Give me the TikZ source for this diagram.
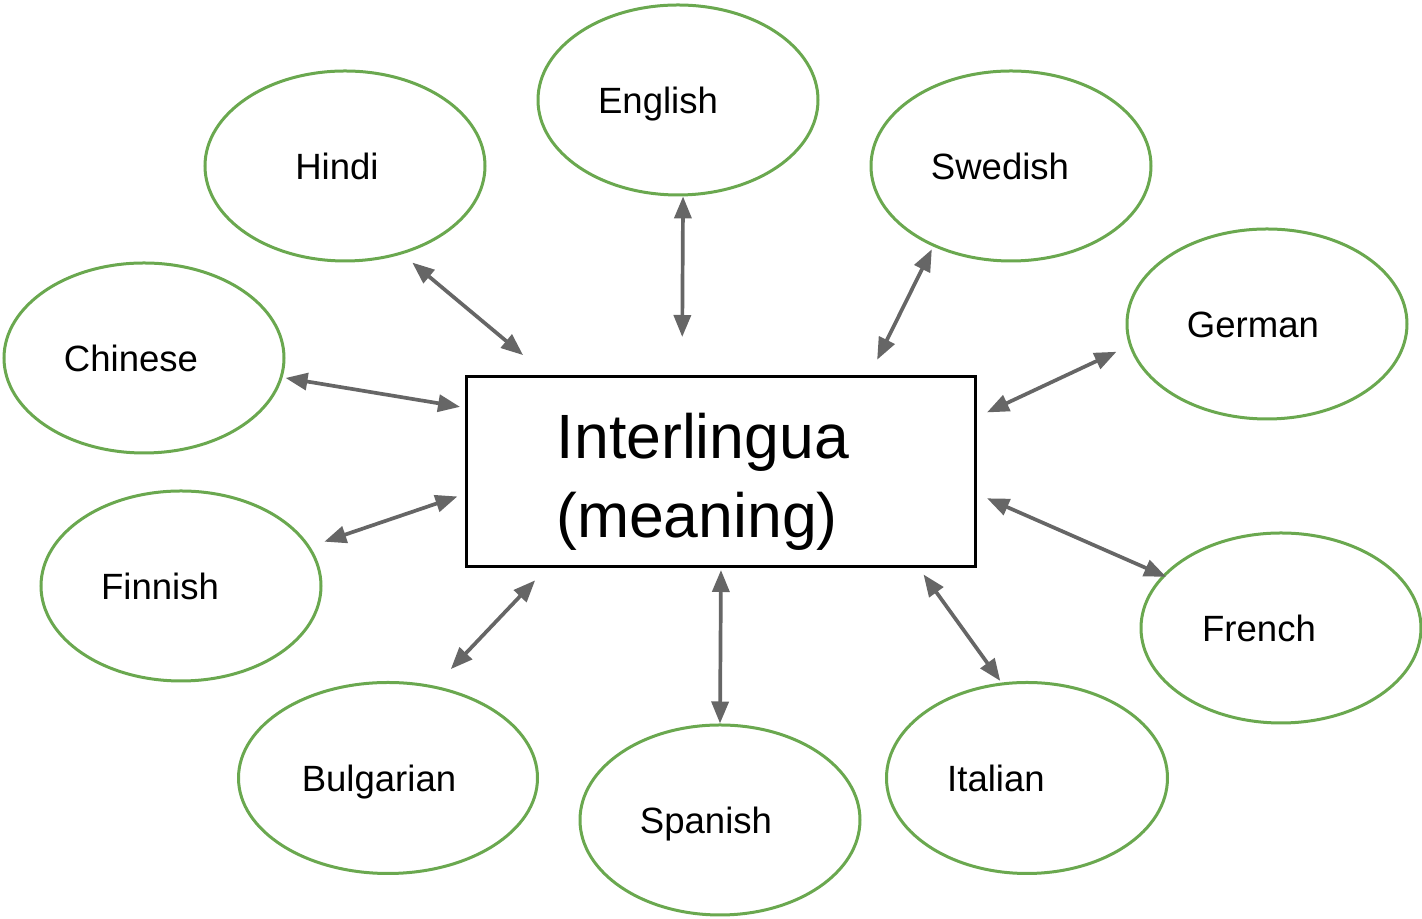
\documentclass[tikz,border=0pt]{standalone}
\usepackage{fontspec}
\setmainfont{Liberation Sans}
\usetikzlibrary{shapes.geometric,arrows.meta}
\definecolor{langgreen}{HTML}{6AA84F}
\definecolor{arrowgray}{HTML}{666666}
\tikzset{lang/.style = {ellipse, draw = langgreen, line width = 0.03cm, inner sep = 0pt, minimum width = 2.80cm, minimum height = 1.90cm, text height = 0.27cm, text depth = 0cm, font = \fontsize{10.4}{12.5}\selectfont, execute at begin node = \hspace*{#1}}, lang/.default = -0.3cm}
\tikzset{box/.style = {rectangle, draw = black, line width = 0.03cm, minimum width = 5.09cm, minimum height = 1.90cm, align = center, font = \fontsize{17.8}{21.4}\selectfont}}
\tikzset{conn/.style = {draw = arrowgray, line width = 0.037cm, {Triangle[length = 0.22cm, width = 0.17cm]}-{Triangle[length = 0.22cm, width = 0.17cm]}}}

\begin{document}
\begin{tikzpicture}
			\useasboundingbox (0,0) rectangle (14.22,-9.19);

			\node (box)[box]at (7.21,-4.715) {\rule{0pt}{0.66cm}\hspace*{-0.36cm}Interlingua\\[0.04cm]\hspace*{-0.48cm}(meaning)};

			\node (english)[lang = -0.40cm]at (6.78,-1.00) {English};
			\node (hindi)[lang = -0.16cm]at (3.45,-1.66) {Hindi};
			\node (swedish)[lang = -0.22cm]at (10.11,-1.66) {Swedish};
			\node (german)[lang = -0.28cm]at (12.67,-3.24) {German};
			\node (chinese)[lang = -0.26cm]at (1.44,-3.58) {Chinese};
			\node (finnish)[lang = -0.42cm]at (1.81,-5.86) {Finnish};
			\node (french)[lang = -0.44cm]at (12.81,-6.28) {French};
			\node (bulgarian)[lang = -0.18cm, minimum width = 2.99cm, minimum height = 1.91cm]at (3.88,-7.78) {Bulgarian};
			\node (spanish)[lang = -0.28cm]at (7.20,-8.20) {Spanish};
			\node (italian)[lang = -0.62cm, minimum width = 2.81cm, minimum height = 1.91cm]at (10.27,-7.78) {Italian};

			\draw[conn, shorten < = 0.31cm, shorten > = 0.13cm] (box.151)--(hindi.-57);
			\draw[conn, shorten < = 0.38cm] (box.112.5)--(english.-87);
			\draw[conn, shorten < = 0.17cm, shorten > = 0.03cm] (box.33)--(swedish.-134);
			\draw[conn, shorten < = 0.05cm, shorten > = 0.03cm] (box.166)--(chinese.-8);
			\draw[conn, shorten < = 0.11cm, shorten > = 0.14cm] (box.12.6)--(german.189);
			\draw[conn, shorten < = 0.08cm, shorten > = 0.15cm] (box.185.6)--(finnish.17.6);
			\draw[conn, shorten < = 0.11cm, shorten > = -0.04cm] (box.-5.6)--(french.156.5);
			\draw[conn, shorten < = 0.17cm, shorten > = 0.23cm] (box.209.6)--(bulgarian.63.6);
			\draw[conn, shorten < = 0.02cm] (box.south)--(spanish.north);
			\draw[conn, shorten < = 0.08cm, shorten > = 0.02cm] (box.-26.5)--(italian.105);
		\end{tikzpicture}
\end{document}
